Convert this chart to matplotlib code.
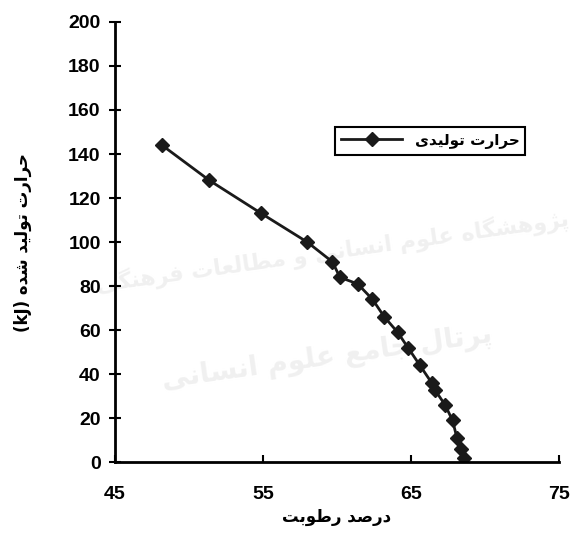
import matplotlib
matplotlib.use("Agg")
import matplotlib.pyplot as plt

# moisture (%) vs generated heat (kJ)
moisture = [48.2, 51.4, 54.9, 58.0, 59.7, 60.2, 61.4, 62.4, 63.2, 64.1, 64.8,
            65.6, 66.4, 66.6, 67.3, 67.8, 68.1, 68.4, 68.6]
heat = [144, 128, 113, 100, 91, 84, 81, 74, 66, 59, 52,
        44, 36, 33, 26, 19, 11, 6, 2]

x_ticks = [45, 55, 65, 75]
y_ticks = list(range(0, 201, 20))

legend_label = "حرارت تولیدی"
y_label = "حرارت تولید شده"
x_label = "درصد رطوبت"
wm1 = "پژوهشگاه علوم انسانی و مطالعات فرهنگی"
wm2 = "پرتال جامع علوم انسانی"

# presentation forms: iso, fin, ini, med (ini/med None -> joins only to right)
FORMS = {
    'ا': (0xFE8D, 0xFE8E, None, None),
    'ب': (0xFE8F, 0xFE90, 0xFE91, 0xFE92),
    'پ': (0xFB56, 0xFB57, 0xFB58, 0xFB59),
    'ت': (0xFE95, 0xFE96, 0xFE97, 0xFE98),
    'ج': (0xFE9D, 0xFE9E, 0xFE9F, 0xFEA0),
    'ح': (0xFEA1, 0xFEA2, 0xFEA3, 0xFEA4),
    'د': (0xFEA9, 0xFEAA, None, None),
    'ر': (0xFEAD, 0xFEAE, None, None),
    'ژ': (0xFB8A, 0xFB8B, None, None),
    'س': (0xFEB1, 0xFEB2, 0xFEB3, 0xFEB4),
    'ش': (0xFEB5, 0xFEB6, 0xFEB7, 0xFEB8),
    'ص': (0xFEB9, 0xFEBA, 0xFEBB, 0xFEBC),
    'ط': (0xFEC1, 0xFEC2, 0xFEC3, 0xFEC4),
    'ع': (0xFEC9, 0xFECA, 0xFECB, 0xFECC),
    'ف': (0xFED1, 0xFED2, 0xFED3, 0xFED4),
    'ک': (0xFB8E, 0xFB8F, 0xFB90, 0xFB91),
    'گ': (0xFB92, 0xFB93, 0xFB94, 0xFB95),
    'ل': (0xFEDD, 0xFEDE, 0xFEDF, 0xFEE0),
    'م': (0xFEE1, 0xFEE2, 0xFEE3, 0xFEE4),
    'ن': (0xFEE5, 0xFEE6, 0xFEE7, 0xFEE8),
    'ه': (0xFEE9, 0xFEEA, 0xFEEB, 0xFEEC),
    'و': (0xFEED, 0xFEEE, None, None),
    'ی': (0xFBFC, 0xFBFD, 0xFBFE, 0xFBFF),
}


def shape(text):
    # crude persian shaping + reverse to visual order
    out = []
    n = len(text)
    for i, ch in enumerate(text):
        if ch not in FORMS:
            out.append(ch)
            continue
        f = FORMS[ch]
        prev = text[i - 1] if i > 0 else ''
        nxt = text[i + 1] if i < n - 1 else ''
        join_prev = prev in FORMS and FORMS[prev][2] is not None
        join_next = nxt in FORMS and f[2] is not None
        if join_prev and join_next:
            cp = f[3]
        elif join_prev:
            cp = f[1]
        elif join_next:
            cp = f[2]
        else:
            cp = f[0]
        out.append(chr(cp))
    return ''.join(reversed(out))


plt.rcParams['font.family'] = ['Liberation Sans', 'DejaVu Sans']
plt.rcParams['font.weight'] = 'bold'

fig = plt.figure(figsize=(5.73, 5.35), dpi=100)
ax = fig.add_axes([0.2, 0.136, 0.776, 0.823])

# faint watermark behind the axes
fig.text(0.58, 0.53, shape(wm1), fontsize=16, color='#f0f0f0', rotation=8,
         ha='center', va='center', family='DejaVu Sans', zorder=-1)
fig.text(0.57, 0.33, shape(wm2), fontsize=20, color='#f0f0f0', rotation=8,
         ha='center', va='center', family='DejaVu Sans', zorder=-1)

ax.plot(moisture, heat, color='#1a1a1a', lw=2, marker='D', markersize=7,
        label=shape(legend_label))

ax.set_xlim(45, 75)
ax.set_ylim(0, 200)
ax.set_xticks(x_ticks)
ax.set_yticks(y_ticks)
ax.patch.set_alpha(0)
for s in ['top', 'right']:
    ax.spines[s].set_visible(False)
ax.spines['left'].set_linewidth(2)
ax.spines['bottom'].set_linewidth(2)
ax.tick_params(axis='y', direction='inout', length=8, width=1.5, labelsize=14, pad=6)
ax.tick_params(axis='x', direction='in', length=5, width=1.5, labelsize=14, pad=17)

ax.set_xlabel(shape(x_label), fontsize=12, family='DejaVu Sans', fontweight='bold', labelpad=4)
ax.set_ylabel("(kJ) " + shape(y_label), fontsize=12, family='DejaVu Sans',
              fontweight='bold', labelpad=26)

leg = ax.legend(loc='center', bbox_to_anchor=(0.71, 0.73), fancybox=False,
                edgecolor='black', framealpha=1, handlelength=4,
                prop={'family': 'DejaVu Sans', 'weight': 'bold', 'size': 11})
leg.get_frame().set_linewidth(1.5)

fig.savefig("out.png", dpi=100)
